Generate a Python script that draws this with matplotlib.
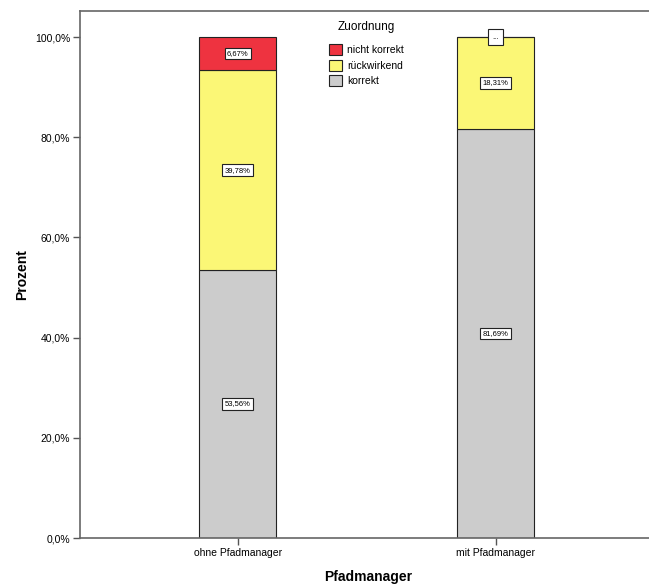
import matplotlib
matplotlib.use("Agg")
import matplotlib.pyplot as plt
from matplotlib.patches import Patch

plt.rcParams['font.family'] = ['Liberation Sans', 'DejaVu Sans']

categories = ["ohne Pfadmanager", "mit Pfadmanager"]
series_names = ["korrekt", "rückwirkend", "nicht korrekt"]
korrekt = [53.56, 81.69]
rueckwirkend = [39.78, 18.31]
nicht_korrekt = [6.67, 0.0]
labels_korrekt = ["53,56%", "81,69%"]
labels_rueck = ["39,78%", "18,31%"]
labels_nicht = ["6,67%", "..."]
yticks = [0, 20, 40, 60, 80, 100]
ytick_labels = ["0,0%", "20,0%", "40,0%", "60,0%", "80,0%", "100,0%"]

colors = {"korrekt": "#cccccc", "rückwirkend": "#fbf776", "nicht korrekt": "#ee3340"}

fig = plt.figure(figsize=(6.49, 5.85), dpi=100)
ax = fig.add_axes([80/649, 1-538/585, 1-80/649 + 0.01, (538-11)/585])

x = list(range(len(categories)))
width = 0.3
edge = "#222222"
ax.bar(x, korrekt, width, color=colors["korrekt"], edgecolor=edge, linewidth=0.8, zorder=2)
bottom2 = korrekt
ax.bar(x, rueckwirkend, width, bottom=bottom2, color=colors["rückwirkend"], edgecolor=edge, linewidth=0.8, zorder=2)
bottom3 = [a + b for a, b in zip(korrekt, rueckwirkend)]
ax.bar(x, nicht_korrekt, width, bottom=bottom3, color=colors["nicht korrekt"], edgecolor=edge, linewidth=0.8, zorder=2)

box = dict(boxstyle="square,pad=0.3", facecolor="white", edgecolor="#222222", linewidth=0.8)
for i in x:
    ax.text(i, korrekt[i] / 2, labels_korrekt[i], ha="center", va="center", fontsize=5.5, bbox=box, zorder=5)
    ax.text(i, korrekt[i] + rueckwirkend[i] / 2, labels_rueck[i], ha="center", va="center", fontsize=5.5, bbox=box, zorder=5)
    b = dict(box)
    if nicht_korrekt[i] < 1:
        b["boxstyle"] = "square,pad=0.6"
    ax.text(i, bottom3[i] + nicht_korrekt[i] / 2, labels_nicht[i], ha="center", va="center", fontsize=5.5, bbox=b, zorder=5)

ax.set_xlim(-0.6115, 1.62)
ax.set_ylim(0, 105.2)
ax.set_xticks(x)
ax.set_xticklabels(categories, fontsize=7.5)
ax.set_yticks(yticks)
ax.set_yticklabels(ytick_labels, fontsize=7.5)
ax.tick_params(axis="both", direction="out", length=5, width=1, color="#555555", pad=2)

for s in ["left", "bottom", "top"]:
    ax.spines[s].set_color("#666666")
    ax.spines[s].set_linewidth(1.2)
ax.spines["right"].set_visible(False)

ax.set_xlabel("Pfadmanager", fontsize=10, fontweight="bold", labelpad=9)
ax.set_ylabel("Prozent", fontsize=10, fontweight="bold", labelpad=4)

handles = [Patch(facecolor=colors[n], edgecolor="#222222", linewidth=0.8) for n in ["nicht korrekt", "rückwirkend", "korrekt"]]
leg = ax.legend(handles, ["nicht korrekt", "rückwirkend", "korrekt"], title="Zuordnung",
                loc="upper left", bbox_to_anchor=(322/649, 1-14/585), bbox_transform=fig.transFigure,
                frameon=False, fontsize=7.5, title_fontsize=8.5, handlelength=1.2, handleheight=1.2,
                handletextpad=0.5, labelspacing=0.45, borderpad=0.2)
leg._legend_box.sep = 8

fig.savefig("out.png", dpi=100)
